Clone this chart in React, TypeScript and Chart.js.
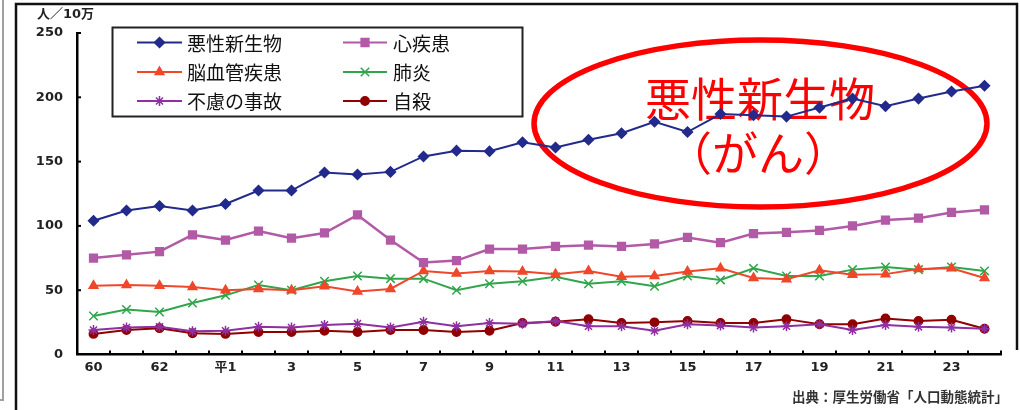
import React, { useEffect, useRef } from "react";
import { Chart, registerables } from "chart.js";
import { drawPoint } from "chart.js/helpers";

Chart.register(...registerables);

// 年次（昭和60年〜平成24年）
const years = [
  "60", "61", "62", "63", "平1", "2", "3", "4", "5", "6", "7", "8", "9", "10",
  "11", "12", "13", "14", "15", "16", "17", "18", "19", "20", "21", "22", "23", "24",
];

// 死因別死亡率（人口10万対）
const cancer = [104, 112, 115.5, 112, 117, 127.5, 127.5, 141.5, 140, 142, 154, 158.5, 158, 165, 161, 167, 172, 181, 173, 187, 186, 185, 192, 199, 193, 199, 204.5, 209];
const heart = [75, 77.5, 80, 93, 89, 96, 90.5, 94.5, 108.5, 89, 71.5, 73, 82, 82, 84, 85, 84, 86, 91, 87, 94, 95, 96.5, 100, 104.5, 106, 110.5, 112.5];
const stroke = [53.5, 54, 53.5, 52.5, 50, 51, 50, 53, 49, 51, 65, 63, 65, 64.5, 62.5, 65, 60.5, 61, 64.5, 67, 59.5, 58.5, 65.5, 62, 62.5, 66.5, 67, 59.5];
const pneumonia = [30, 35, 33, 40, 46, 54, 50, 57, 61, 59, 59, 50, 55, 57, 60.5, 55, 57, 53, 61, 58, 67, 61, 61, 66, 68, 66, 68, 65];
const accident = [19, 21, 21.5, 18, 18.5, 21.5, 21, 23, 24, 21, 25.5, 22, 24.5, 24, 26, 22, 22, 18.5, 23.5, 22.5, 21, 22, 23.5, 19, 23, 21.5, 21, 20];
const suicide = [16, 19, 20.5, 16.5, 16, 17.5, 17.5, 18.5, 17.5, 19, 19, 17.5, 18.5, 24.5, 25.5, 27.5, 24.5, 25, 26, 24.5, 24.5, 27.5, 23.5, 23.5, 28, 26, 27, 20];

const seriesNames = ["悪性新生物", "心疾患", "脳血管疾患", "肺炎", "不慮の事故", "自殺"];
const seriesColors = ["#222a8c", "#b25aa6", "#f0472a", "#30a54c", "#8e30a0", "#900000"];
const seriesStyles = ["rectRot", "rect", "triangle", "crossRot", "star", "circle"];
const seriesRadii = [5, 5.5, 5, 6, 5, 4.2];
const seriesValues = [cancer, heart, stroke, pneumonia, accident, suicide];

const yTitle = "人／10万";
const sourceNote = "出典：厚生労働省「人口動態統計」";
const calloutLines = ["悪性新生物", "（がん）"];

const NUM_FONT = '"DejaVu Sans", "Noto Sans CJK JP", sans-serif';
const JP_FONT = '"Noto Sans CJK JP", "Noto Sans", sans-serif';

const decorPlugin = {
  id: "decor",
  beforeDraw(chart: any) {
    const ctx = chart.ctx as CanvasRenderingContext2D;
    ctx.save();
    ctx.fillStyle = "#ffffff";
    ctx.fillRect(0, 0, chart.width, chart.height);
    // outer frame
    ctx.strokeStyle = "#a0a0a0";
    ctx.lineWidth = 2;
    ctx.beginPath();
    ctx.moveTo(3, 0);
    ctx.lineTo(3, 400);
    ctx.lineTo(0, 400);
    ctx.stroke();
    ctx.strokeStyle = "#111";
    ctx.lineWidth = 2.5;
    ctx.beginPath();
    ctx.moveTo(16, 410);
    ctx.lineTo(16, 4);
    ctx.lineTo(1017, 4);
    ctx.lineTo(1017, 350);
    ctx.stroke();
    ctx.restore();
  },
  beforeDatasetsDraw(chart: any) {
    const ctx = chart.ctx as CanvasRenderingContext2D;
    ctx.save();
    ctx.strokeStyle = "#ff0000";
    ctx.lineWidth = 5.5;
    ctx.beginPath();
    ctx.ellipse(760.5, 123.5, 226.5, 83.5, 0, 0, Math.PI * 2);
    ctx.stroke();
    ctx.fillStyle = "#ff0000";
    ctx.font = `46px ${JP_FONT}`;
    ctx.textAlign = "center";
    ctx.textBaseline = "middle";
    ctx.fillText(calloutLines[0], 760, 99);
    ctx.fillText(calloutLines[1], 758, 153);
    ctx.restore();
  },
  afterDraw(chart: any) {
    const ctx = chart.ctx as CanvasRenderingContext2D;
    const xs = chart.scales.x;
    const ys = chart.scales.y;
    const area = chart.chartArea;
    ctx.save();
    ctx.strokeStyle = "#000";
    ctx.lineWidth = 2;
    // inward ticks on the value axis
    ys.ticks.forEach((t: any) => {
      if (t.value === 0) return;
      const py = ys.getPixelForValue(t.value);
      ctx.beginPath();
      ctx.moveTo(area.left - 1, py);
      ctx.lineTo(area.left + 4, py);
      ctx.stroke();
    });
    // inward ticks at the category boundaries
    for (let i = 0; i <= years.length; i++) {
      const px = xs.getPixelForValue(i - 0.5);
      ctx.beginPath();
      ctx.moveTo(px, area.bottom);
      ctx.lineTo(px, area.bottom - 4);
      ctx.stroke();
    }

    // axis unit
    ctx.fillStyle = "#222";
    ctx.font = `bold 13px ${NUM_FONT}`;
    ctx.textAlign = "left";
    ctx.textBaseline = "middle";
    ctx.fillText(yTitle, 37, 15);

    // source note
    ctx.fillStyle = "#333";
    ctx.font = `bold 13.5px ${JP_FONT}`;
    ctx.textAlign = "right";
    ctx.fillText(sourceNote, 1008, 397);

    // legend box
    ctx.strokeStyle = "#222";
    ctx.lineWidth = 2;
    ctx.strokeRect(112.5, 27.5, 410, 89);
    const rowsY = [42.5, 72, 101];
    const cols = [
      { x0: 137, x1: 182, tx: 187 },
      { x0: 343, x1: 387, tx: 393 },
    ];
    chart.data.datasets.forEach((ds: any, i: number) => {
      const col = cols[i % 2];
      const y = rowsY[Math.floor(i / 2)];
      ctx.strokeStyle = ds.borderColor;
      ctx.lineWidth = 2;
      ctx.beginPath();
      ctx.moveTo(col.x0, y);
      ctx.lineTo(col.x1, y);
      ctx.stroke();
      ctx.fillStyle = ds.backgroundColor;
      ctx.strokeStyle = ds.borderColor;
      ctx.lineWidth = 1.5;
      drawPoint(ctx, { pointStyle: ds.pointStyle, radius: ds.pointRadius, rotation: 0, borderWidth: 1.5 } as any, (col.x0 + col.x1) / 2, y);
      ctx.fillStyle = "#111";
      ctx.font = `19px ${JP_FONT}`;
      ctx.textAlign = "left";
      ctx.textBaseline = "middle";
      ctx.fillText(ds.label, col.tx, y + 1);
    });
    ctx.restore();
  },
};

export default function App() {
  const canvasRef = useRef<HTMLCanvasElement | null>(null);

  useEffect(() => {
    const canvas = canvasRef.current;
    if (!canvas) return;
    const chart = new Chart(canvas, {
      type: "line",
      data: {
        labels: years,
        datasets: seriesNames.map((name, i) => ({
          label: name,
          data: seriesValues[i],
          borderColor: seriesColors[i],
          backgroundColor: seriesColors[i],
          borderWidth: i === 1 ? 2.5 : 2,
          pointStyle: seriesStyles[i] as any,
          pointRadius: seriesRadii[i],
          pointBorderWidth: 1.5,
          pointBackgroundColor: seriesColors[i],
          pointBorderColor: seriesColors[i],
          tension: 0,
          fill: false,
        })),
      },
      options: {
        responsive: false,
        animation: false,
        devicePixelRatio: 1,
        layout: { padding: { left: 17, right: 19, top: 33, bottom: 25.5 } },
        plugins: { legend: { display: false }, tooltip: { enabled: false } },
        scales: {
          x: {
            type: "category",
            offset: true,
            grid: { display: false, drawTicks: false },
            border: { display: true, color: "#000", width: 2.5 },
            ticks: {
              autoSkip: false,
              maxRotation: 0,
              padding: 5,
              color: "#222",
              font: { family: NUM_FONT, size: 13, weight: "bold" },
              callback: (_v: any, i: number) => (i % 2 === 0 ? years[i] : ""),
            },
            afterFit: (s: any) => {
              s.height = 30;
            },
          },
          y: {
            min: 0,
            max: 250,
            grid: { display: false, drawTicks: false },
            border: { display: true, color: "#000", width: 2.5 },
            ticks: {
              stepSize: 50,
              padding: 14,
              color: "#222",
              font: { family: NUM_FONT, size: 13, weight: "bold" },
            },
            afterFit: (s: any) => {
              s.width = 60;
            },
          },
        },
      },
      plugins: [decorPlugin],
    });
    return () => chart.destroy();
  }, []);

  return (
    <div style={{ position: "fixed", left: 0, top: 0, width: 1020, height: 410, background: "#fff" }}>
      <canvas ref={canvasRef} width={1020} height={410} style={{ display: "block" }} />
    </div>
  );
}
